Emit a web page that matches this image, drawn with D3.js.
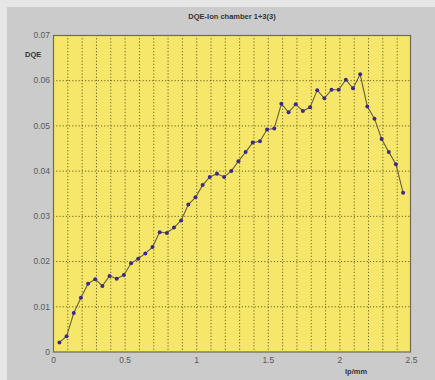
<!DOCTYPE html>
<html>
<head>
<meta charset="utf-8">
<script src="https://cdn.jsdelivr.net/npm/d3@7"></script>
<style>
  html, body { margin: 0; padding: 0; background: #e6e6e6; }
  svg { display: block; }
</style>
</head>
<body>
<svg id="chart" width="435" height="380"></svg>
<script>
// Spatial frequency (lp/mm) of each measured point
const freq = [
  0.045, 0.095, 0.145, 0.195, 0.245, 0.295, 0.345, 0.395, 0.445, 0.495,
  0.545, 0.595, 0.645, 0.695, 0.745, 0.795, 0.845, 0.895, 0.945, 0.995,
  1.045, 1.095, 1.145, 1.195, 1.245, 1.295, 1.345, 1.395, 1.445, 1.495,
  1.545, 1.595, 1.645, 1.695, 1.745, 1.795, 1.845, 1.895, 1.945, 1.995,
  2.045, 2.095, 2.145, 2.195, 2.245, 2.295, 2.345, 2.395, 2.445
];
// Detective quantum efficiency at each frequency
const dqe = [
  0.0020, 0.0034, 0.0085, 0.0119, 0.0150, 0.0160, 0.0145, 0.0167, 0.0161, 0.0169,
  0.0195, 0.0205, 0.0217, 0.0231, 0.0264, 0.0262, 0.0274, 0.0290, 0.0325, 0.0341,
  0.0368, 0.0386, 0.0393, 0.0386, 0.0399, 0.0421, 0.0441, 0.0462, 0.0465, 0.0491,
  0.0493, 0.0548, 0.0529, 0.0547, 0.0532, 0.0540, 0.0578, 0.0560, 0.0579, 0.0579,
  0.0601, 0.0582, 0.0613, 0.0542, 0.0515, 0.0470, 0.0441, 0.0414, 0.0351
];
const xTickLabels = [0, 0.5, 1, 1.5, 2, 2.5];
const yTickLabels = [0, 0.01, 0.02, 0.03, 0.04, 0.05, 0.06, 0.07];
const xGridSteps = d3.range(0, 26).map(i => i / 10);

const svg = d3.select("#chart");
const W = 435, H = 380;
const plot = { left: 53, right: 411, top: 35, bottom: 351.5 };

// Grey window panel
svg.append("rect")
  .attr("x", 7).attr("y", 7).attr("width", W - 7).attr("height", H - 7)
  .attr("fill", "#cbcbcb");

const x = d3.scaleLinear().domain([0, 2.5]).range([plot.left, plot.right]);
const y = d3.scaleLinear().domain([0, 0.07]).range([plot.bottom, plot.top]);

// Plot area
svg.append("rect")
  .attr("x", plot.left).attr("y", plot.top)
  .attr("width", plot.right - plot.left).attr("height", plot.bottom - plot.top)
  .attr("fill", "#f6e76a");

// Dotted grid
const grid = svg.append("g").attr("stroke", "#6e6222").attr("stroke-width", 1)
  .attr("stroke-dasharray", "1.2,2");
grid.selectAll("line.v").data(xGridSteps.slice(1, -1)).join("line")
  .attr("x1", d => x(d) + 0.5).attr("x2", d => x(d) + 0.5)
  .attr("y1", plot.top).attr("y2", plot.bottom);
grid.selectAll("line.h").data(yTickLabels.slice(1, -1)).join("line")
  .attr("x1", plot.left).attr("x2", plot.right)
  .attr("y1", d => y(d) + 0.5).attr("y2", d => y(d) + 0.5);

// Frame
svg.append("rect")
  .attr("x", plot.left + 0.5).attr("y", plot.top + 0.5)
  .attr("width", plot.right - plot.left - 1).attr("height", plot.bottom - plot.top)
  .attr("fill", "none").attr("stroke", "#6f6a50").attr("stroke-width", 1.2);

// Axes
const tickFont = "Liberation Sans, Arial, sans-serif";
const xAxis = svg.append("g")
  .attr("transform", `translate(0,${plot.bottom})`)
  .call(d3.axisBottom(x).tickValues(xTickLabels).tickSize(0).tickPadding(5)
    .tickFormat(d3.format("")));
const yAxis = svg.append("g")
  .attr("transform", `translate(${plot.left},0)`)
  .call(d3.axisLeft(y).tickValues(yTickLabels).tickSize(0).tickPadding(3)
    .tickFormat(d => d === 0 ? "0" : d3.format(".2f")(d)));
[xAxis, yAxis].forEach(g => {
  g.select(".domain").remove();
  g.selectAll("text").attr("font-family", tickFont).attr("font-size", 8.5)
    .attr("fill", "#5a5a5a");
});

// Data line and markers
const line = d3.line().x((d, i) => x(freq[i])).y(d => y(d));
svg.append("path").datum(dqe)
  .attr("d", line).attr("fill", "none")
  .attr("stroke", "#666238").attr("stroke-width", 1.1);
svg.append("g").selectAll("circle").data(dqe).join("circle")
  .attr("cx", (d, i) => x(freq[i])).attr("cy", d => y(d))
  .attr("r", 2).attr("fill", "#3b2a8c");

// Titles
svg.append("text").attr("x", 232).attr("y", 19).attr("text-anchor", "middle")
  .attr("font-family", tickFont).attr("font-size", 7.5).attr("font-weight", "bold")
  .attr("fill", "#333").text("DQE-Ion chamber 1+3(3)");
svg.append("text").attr("x", 25).attr("y", 57)
  .attr("font-family", tickFont).attr("font-size", 7.5).attr("font-weight", "bold")
  .attr("fill", "#333").text("DQE");
svg.append("text").attr("x", 345).attr("y", 374)
  .attr("font-family", tickFont).attr("font-size", 7.5).attr("font-weight", "bold")
  .attr("fill", "#333").text("lp/mm");
</script>
</body>
</html>
